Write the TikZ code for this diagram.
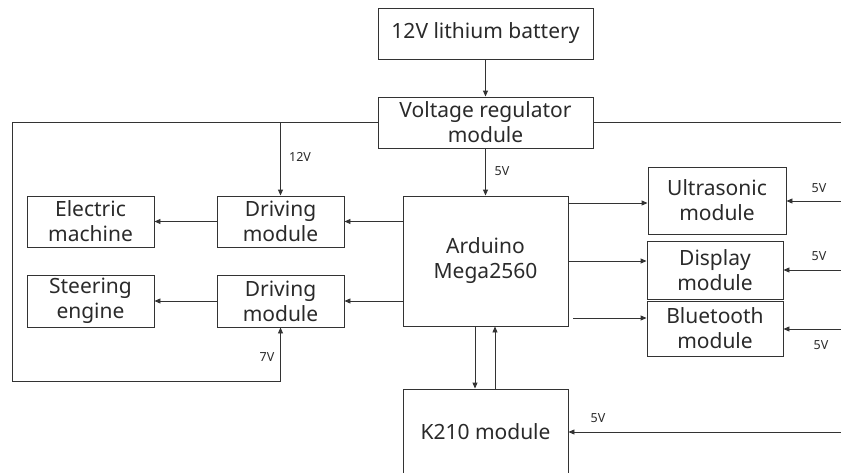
\documentclass[tikz,border=0pt]{standalone}
\usepackage{fontspec}
\setmainfont{Noto Sans}
\usetikzlibrary{arrows.meta}
\definecolor{ln}{HTML}{333333}
\definecolor{tx}{HTML}{2a2a2a}
\tikzset{
  box/.style={draw=ln, line width=0.9pt, align=center, inner sep=0pt, text=tx,
    font=\fontsize{21}{25}\selectfont},
  arr/.style={draw=ln, line width=0.9pt, -{Triangle[length=6pt,width=5pt]}},
  wire/.style={draw=ln, line width=0.9pt},
  vlab/.style={text=tx, font=\fontsize{12.5}{14}\selectfont, inner sep=0pt}
}
\begin{document}
\begin{tikzpicture}[x=1pt,y=-1pt]
\useasboundingbox (0,0) rectangle (841,472);
\clip (0,0) rectangle (841,472);
% boxes
\node[box, minimum width=215, minimum height=51] (bat) at (485.5,33.5) {12V lithium battery};
\node[box, minimum width=215, minimum height=51] (reg) at (485.5,122.5) {Voltage regulator\\module};
\node[box, minimum width=165, minimum height=130] (ard) at (485.5,261) {Arduino\\Mega2560};
\node[box, minimum width=127, minimum height=51] (em) at (90.5,221.5) {Electric\\machine};
\node[box, minimum width=127, minimum height=51] (drv1) at (280.5,221.5) {Driving\\module};
\node[box, minimum width=127, minimum height=52] (se) at (90.5,301) {Steering\\engine};
\node[box, minimum width=127, minimum height=52] (drv2) at (280.5,301) {Driving\\module};
\node[box, minimum width=138, minimum height=67] (ult) at (717,200.5) {Ultrasonic\\module};
\node[box, minimum width=136, minimum height=58] (disp) at (715,270) {Display\\module};
\node[box, minimum width=136, minimum height=55] (bt) at (715,328.5) {Bluetooth\\module};
\node[box, minimum width=165, minimum height=86] (k210) at (485.5,432) {K210 module};
% coordinates
\coordinate (lt) at (12,122.5);
\coordinate (lb) at (12,381);
\coordinate (b7) at (280.5,381);
\coordinate (j12) at (280.5,122.5);
\coordinate (re) at (841,122.5);
\coordinate (btstart) at (573,318);
\coordinate (in1) at (841,201);
\coordinate (in2) at (841,270);
\coordinate (in3) at (841,329);
\coordinate (in4) at (841,432);
% connectors
\draw[arr] (bat) -- (reg);
\draw[arr] (reg) -- (ard);
\draw[wire] (reg.west) -- (lt) -- (lb) -- (b7);
\draw[arr] (b7) -- (drv2.south);
\draw[arr] (j12) -- (drv1.north);
\draw[wire] (reg.east) -- (re);
\draw[arr] (drv1.east -| ard.west) -- (drv1.east);
\draw[arr] (drv1.west) -- (em.east);
\draw[arr] (drv2.east -| ard.west) -- (drv2.east);
\draw[arr] (drv2.west) -- (se.east);
\draw[arr] (ard.east |- 0,203) -- (ult.west |- 0,203);
\draw[arr] (ard.east |- 0,261) -- (disp.west |- 0,261);
\draw[arr] (btstart) -- (bt.west |- btstart);
\draw[arr] (in1) -- (ult.east |- in1);
\draw[arr] (in2) -- (disp.east |- in2);
\draw[arr] (in3) -- (bt.east |- in3);
\draw[arr] (in4) -- (k210.east);
\draw[arr] (ard.south -| 475,0) -- (k210.north -| 475,0);
\draw[arr] (k210.north -| 495,0) -- (ard.south -| 495,0);
% labels
\node[vlab] (l5a) at (502,171) {5V};
\node[vlab] (l12) at (300,157) {12V};
\node[vlab] (l7) at (267,357) {7V};
\node[vlab] (l5b) at (819,188) {5V};
\node[vlab] (l5c) at (819,256) {5V};
\node[vlab] (l5d) at (821,345) {5V};
\node[vlab] (l5e) at (598,418) {5V};
\end{tikzpicture}
\end{document}
